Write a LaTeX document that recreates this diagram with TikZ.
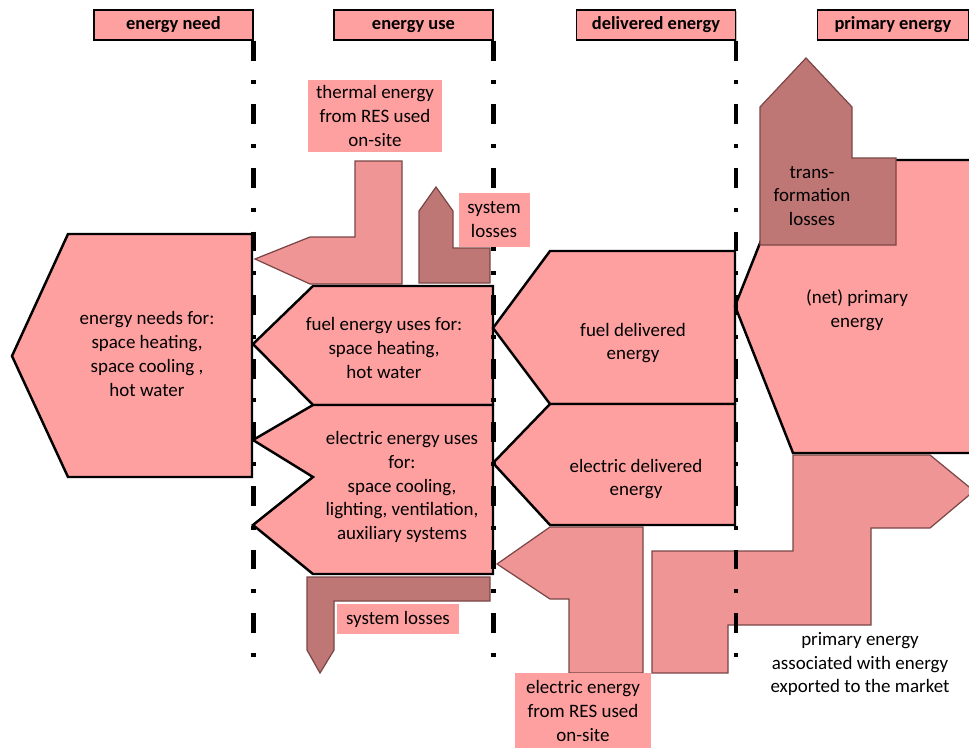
\documentclass[tikz,border=0pt]{standalone}
\usepackage{fontspec}
\setmainfont{Carlito}
\usepackage{tikz}
\definecolor{flowpink}{HTML}{FFA0A0}
\definecolor{respink}{HTML}{EF9595}
\definecolor{lossred}{HTML}{BF7775}
\definecolor{lossedge}{HTML}{7A4646}
\usetikzlibrary{shadows}

\begin{document}
\begin{tikzpicture}[x=0.02cm, y=-0.02cm,
  every node/.style={font=\fontsize{10.8}{13.6}\selectfont, align=center, inner sep=0pt},
  flow/.style={fill=flowpink, draw=black, line width=1.4pt, line join=miter},
  res/.style={fill=respink, draw=lossedge, line width=0.7pt},
  loss/.style={fill=lossred, draw=lossedge, line width=0.7pt},
  lbl/.style={fill=flowpink, minimum width=#1},
  hdr/.style={rectangle, draw=black, line width=0.8pt, fill=flowpink,
              minimum width=#1, minimum height=0.6cm, text height=1.6ex, text depth=0.45ex,
              font=\fontsize{10.5}{12}\selectfont\bfseries,
              drop shadow={shadow xshift=0.8pt, shadow yshift=-0.8pt, opacity=0.5}},
  stage/.style={line width=2.5pt, dash pattern=on 11.3pt off 11.3pt on 2.3pt off 11.3pt}
]
  \useasboundingbox (0,0) rectangle (969,747);
  \clip (0,0) rectangle (969,747);

  \draw[res] (255,259) -- (310,237) -- (355,237) -- (355,161) -- (402,161) -- (402,284) -- (310,284) -- cycle;
  \draw[loss] (436,187) -- (453,211) -- (453,248) -- (490,248) -- (490,283) -- (419,283) -- (419,211) -- cycle;
  \draw[res] (497,564) -- (550,527) -- (643,527) -- (643,673) -- (569,673) -- (569,599) -- (550,599) -- cycle;
  \draw[res] (652,551) -- (793,551) -- (793,455) -- (930,455) -- (974,491) -- (930,528) -- (871,528)
    -- (871,625) -- (728,625) -- (728,673) -- (652,673) -- cycle;
  \draw[loss] (307,577) -- (490,577) -- (490,601) -- (334,601) -- (334,650) -- (320,673) -- (307,650) -- cycle;

  \draw[flow] (12,356) -- (68,234) -- (252,234) -- (252,477) -- (68,477) -- cycle;
  \draw[flow] (253,344) -- (313,286) -- (493,286) -- (493,405) -- (313,405) -- cycle;
  \draw[flow] (313,405) -- (493,405) -- (493,574) -- (313,574) -- (253,525) -- (313,477) -- (253,440) -- cycle;
  \draw[flow] (493,328) -- (550,251) -- (735,251) -- (735,404) -- (550,404) -- cycle;
  \draw[flow] (493,463) -- (550,404) -- (735,404) -- (735,525) -- (550,525) -- cycle;
  \draw[flow] (735,306) -- (793,160) -- (975,160) -- (975,453) -- (793,453) -- cycle;
  \draw[loss] (806,58) -- (852,107) -- (852,158) -- (896,158) -- (896,245) -- (760,245) -- (760,107) -- cycle;

  \node[hdr=3.18cm] (hneed) at (173.5,25) {energy need};
  \node[hdr=3.18cm] (huse) at (413.5,25) {energy use};
  \node[hdr=3.18cm] (hdel) at (656,25) {delivered energy};
  \node[hdr=3.02cm] (hprim) at (893,25) {primary energy};

  \draw[stage] (hneed.south east) -- ++(0,633);
  \draw[stage] (huse.south east) -- ++(0,633);
  \draw[stage] (hdel.south east) -- ++(0,633);

  \node[lbl=2.7cm, minimum height=1.44cm] (thermal) at (375,116) {thermal energy\\from RES used\\on-site};
  \node[lbl=1.42cm, minimum height=1.08cm] (lossup) at (494,220) {system\\losses};
  \node[lbl=2.46cm, minimum height=0.6cm] (losslow) at (398,619) {system losses};
  \node[lbl=2.72cm, minimum height=1.52cm] (elres) at (583,711) {electric energy\\from RES used\\on-site};

  \node (needtxt) at (147,354) {energy needs for:\\space heating,\\space cooling ,\\hot water};
  \node (fueltxt) at (384,348) {fuel energy uses for:\\space heating,\\hot water};
  \node (electxt) at (402,487) {electric energy uses\\for:\\space cooling,\\lighting, ventilation,\\auxiliary systems};
  \node (fdeltxt) at (633,343) {fuel delivered\\energy};
  \node (edeltxt) at (636,479) {electric delivered\\energy};
  \node (primtxt) at (857,310) {(net) primary\\energy};
  \node (transtxt) at (812,196) {trans-\\formation\\losses};
  \node (exptxt) at (860,664) {primary energy\\associated with energy\\exported to the market};
\end{tikzpicture}
\end{document}
